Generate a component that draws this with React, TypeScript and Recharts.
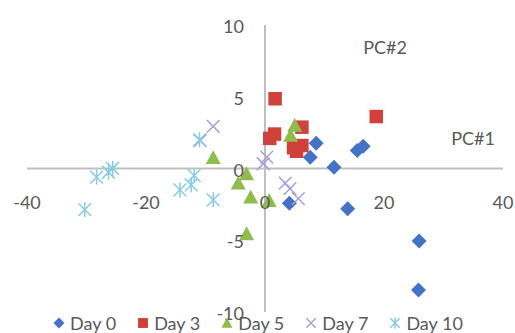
import React from 'react';
import { ScatterChart, Scatter, XAxis, YAxis, ReferenceLine, Legend } from 'recharts';

const seriesNames = ['Day 0', 'Day 3', 'Day 5', 'Day 7', 'Day 10'];

const day0X = [8.6, 7.6, 11.6, 15.5, 16.5, 4.1, 13.9, 25.9, 25.8];
const day0Y = [1.76, 0.79, 0.09, 1.25, 1.55, -2.42, -2.81, -5.06, -8.46];

const day3X = [1.7, 0.8, 1.6, 6.2, 4.8, 6.2, 5.3, 18.7];
const day3Y = [4.86, 2.1, 2.4, 2.88, 1.45, 1.6, 1.2, 3.62];

const day5X = [-8.7, 5.0, 4.3, -3.1, -4.5, -2.4, 0.7, -3.1];
const day5Y = [0.75, 3.0, 2.3, -0.37, -1.02, -2.0, -2.23, -4.55];

const day7X = [-8.7, -10.9, 0.3, -0.3, 3.4, 4.2, 5.6];
const day7Y = [2.93, 1.95, 0.79, 0.33, -1.02, -1.4, -2.1];

const day10X = [-25.6, -26.3, -28.3, -30.3, -11.9, -12.4, -14.3, -8.7, -11.0];
const day10Y = [0, -0.26, -0.6, -2.86, -0.49, -1.14, -1.49, -2.18, 2.0];

const xTicks = [-40, -20, 0, 20, 40];
const yTicks = [-10, -5, 0, 5, 10];
const axisTitleX = 'PC#1';
const axisTitleY = 'PC#2';

const colors = ['#4472C4', '#D0413C', '#8FBC4C', '#A99FD6', '#86CBE6'];
const TEXT = '#595959';
const FONT = 'Lato, "Open Sans", sans-serif';

const zip = (xs: number[], ys: number[]) => xs.map((x, i) => ({ x, y: ys[i] }));
const seriesData = [
  zip(day0X, day0Y),
  zip(day3X, day3Y),
  zip(day5X, day5Y),
  zip(day7X, day7Y),
  zip(day10X, day10Y),
];

type ShapeProps = { cx?: number; cy?: number };

const drawMarker = (kind: number, cx: number, cy: number, r: number, color: string) => {
  switch (kind) {
    case 0:
      return <polygon points={`${cx},${cy - r} ${cx + r},${cy} ${cx},${cy + r} ${cx - r},${cy}`} fill={color} />;
    case 1:
      return <rect x={cx - r * 0.9} y={cy - r * 0.9} width={r * 1.8} height={r * 1.8} fill={color} />;
    case 2:
      return <polygon points={`${cx},${cy - r} ${cx + r},${cy + r * 0.85} ${cx - r},${cy + r * 0.85}`} fill={color} />;
    case 3:
      return (
        <g stroke={color} strokeWidth={1.5}>
          <line x1={cx - r * 0.85} y1={cy - r * 0.85} x2={cx + r * 0.85} y2={cy + r * 0.85} />
          <line x1={cx - r * 0.85} y1={cy + r * 0.85} x2={cx + r * 0.85} y2={cy - r * 0.85} />
        </g>
      );
    default:
      return (
        <g stroke={color} strokeWidth={1.5}>
          <line x1={cx - r * 0.85} y1={cy - r * 0.85} x2={cx + r * 0.85} y2={cy + r * 0.85} />
          <line x1={cx - r * 0.85} y1={cy + r * 0.85} x2={cx + r * 0.85} y2={cy - r * 0.85} />
          <line x1={cx} y1={cy - r} x2={cx} y2={cy + r} />
        </g>
      );
  }
};

const makeShape = (kind: number) => (props: ShapeProps) => {
  const { cx = 0, cy = 0 } = props;
  return drawMarker(kind, cx, cy, 7.5, colors[kind]);
};

const renderXTick = (props: any) => (
  <text x={props.x} y={props.y - 110} textAnchor="middle" dominantBaseline="central" fill={TEXT} fontSize={18} fontFamily={FONT}>
    {props.payload.value}
  </text>
);

const renderYTick = (props: any) => (
  <text x={props.x + 217} y={props.y + 1} textAnchor="end" dominantBaseline="central" fill={TEXT} fontSize={18} fontFamily={FONT}>
    {props.payload.value}
  </text>
);

const LegendContent = () => (
  <div style={{ display: 'flex', justifyContent: 'center', alignItems: 'center', fontFamily: FONT, fontSize: 18, color: TEXT, gap: 20, lineHeight: '20px' }}>
    {seriesNames.map((name, i) => (
      <div key={name} style={{ display: 'flex', alignItems: 'center' }}>
        <svg width={14} height={14} style={{ marginRight: 4 }}>
          {drawMarker(i, 7, 7, 5.5, colors[i])}
        </svg>
        <span>{name}</span>
      </div>
    ))}
  </div>
);

export default function App() {
  return (
    <div style={{ position: 'absolute', left: 0, top: 0, width: 515, height: 333, background: '#fff' }}>
      <ScatterChart width={515} height={333} margin={{ top: 25, right: 12, bottom: 20, left: 26 }}>
        <XAxis
          type="number"
          dataKey="x"
          domain={[-40, 40]}
          ticks={xTicks}
          axisLine={false}
          tickLine={false}
          tickSize={0}
          tickMargin={0}
          height={1}
          tick={renderXTick}
          interval={0}
          allowDataOverflow
        />
        <YAxis
          type="number"
          dataKey="y"
          domain={[-10, 10]}
          ticks={yTicks}
          axisLine={false}
          tickLine={false}
          tickSize={0}
          tickMargin={0}
          width={1}
          tick={renderYTick}
          interval={0}
          allowDataOverflow
        />
        <ReferenceLine y={0} stroke="#BFBFBF" strokeWidth={2} />
        <ReferenceLine x={0} stroke="#BFBFBF" strokeWidth={2} />
        {seriesData.map((data, i) => (
          <Scatter key={seriesNames[i]} name={seriesNames[i]} data={data} fill={colors[i]} shape={makeShape(i)} isAnimationActive={false} />
        ))}
        <Legend verticalAlign="middle" align="center" content={<LegendContent />} wrapperStyle={{ top: 313, left: 0, width: 515 }} />
        <text x={385} y={47} textAnchor="middle" dominantBaseline="central" fill={TEXT} fontSize={18} fontFamily={FONT}>
          {axisTitleY}
        </text>
        <text x={473} y={138} textAnchor="middle" dominantBaseline="central" fill={TEXT} fontSize={18} fontFamily={FONT}>
          {axisTitleX}
        </text>
      </ScatterChart>
    </div>
  );
}
